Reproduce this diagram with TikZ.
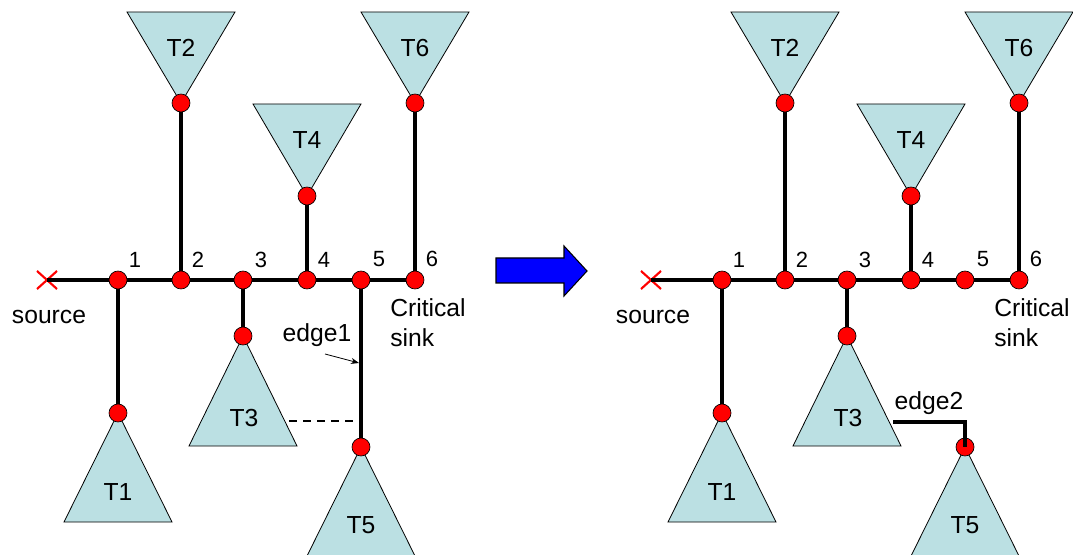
\documentclass[tikz,border=0pt]{standalone}
\usepackage{fontspec}
\setmainfont{Liberation Sans}
\usetikzlibrary{arrows.meta,calc}
\definecolor{treefill}{RGB}{187,224,227}
\definecolor{arrowblue}{RGB}{0,0,255}
\tikzset{
  wire/.style={line width=2.3pt},
  dotnode/.style={circle, fill=red, draw=black, line width=0.5pt, minimum size=13.5pt, inner sep=0pt},
  tree/.style={fill=treefill, draw=black, line width=0.6pt},
  lbl/.style={font=\fontsize{18.5}{22.5}\selectfont, inner sep=0pt},
  num/.style={font=\fontsize{16.5}{20}\selectfont, inner sep=0pt},
  cross/.style={draw=red, line width=1.6pt},
}
\begin{document}
\begin{tikzpicture}[x=0.75pt, y=-0.75pt]
\useasboundingbox (0,0) rectangle (1073,555);
\clip (0,0) rectangle (1073,555);

% ---------- generic half (drawn twice) ----------
\foreach \side/\sx in {L/0, R/604} {
\begin{scope}[xshift=\sx*0.75pt, name prefix=\side-]
  % trees
  \path[tree] (127,12) -- (235,12) -- (181,103) -- cycle;
  \path[tree] (253,104) -- (361,104) -- (307,196) -- cycle;
  \path[tree] (361,12) -- (469,12) -- (415,103) -- cycle;
  \path[tree] (118,413) -- (172,522) -- (64,522) -- cycle;
  \path[tree] (243,336) -- (297,446) -- (189,446) -- cycle;
  \path[tree] (361,447) -- (415,556) -- (307,556) -- cycle;
  \node[lbl] (t2) at (181,48) {T2};
  \node[lbl] (t4) at (307,140) {T4};
  \node[lbl] (t6) at (415,48) {T6};
  \node[lbl] (t1) at (118,492) {T1};
  \node[lbl] (t3) at (244,418) {T3};
  \node[lbl] (t5) at (361,525) {T5};

  % source
  \coordinate (src) at (47,280);
  \draw[cross] ($(src)+(-10,-9)$) -- ($(src)+(10,9)$);
  \draw[cross] ($(src)+(-10,9)$) -- ($(src)+(10,-9)$);
  \node[lbl] (srclbl) at (49,317) {source};

  % nodes
  \coordinate (n1) at (118,280);
  \coordinate (n2) at (181,280);
  \coordinate (n3) at (243,280);
  \coordinate (n4) at (307,280);
  \coordinate (n5) at (361,280);
  \coordinate (n6) at (415,280);
  \coordinate (r1) at (118,413);
  \coordinate (r2) at (181,103);
  \coordinate (r3) at (243,336);
  \coordinate (r4) at (307,196);
  \coordinate (r6) at (415,103);
  \coordinate (r5) at (361,447);

  % wires
  \draw[wire] (src) -- (n6);
  \draw[wire] (n1) -- (r1);
  \draw[wire] (n2) -- (r2);
  \draw[wire] (n3) -- (r3);
  \draw[wire] (n4) -- (r4);
  \draw[wire] (n6) -- (r6);

  % labels
  \node[num] (l1) at (135,260) {1};
  \node[num] (l2) at (198,260) {2};
  \node[num] (l3) at (261,260) {3};
  \node[num] (l4) at (324,260) {4};
  \node[num] (l5) at (379,259) {5};
  \node[num] (l6) at (432,259) {6};
  \node[lbl, anchor=west, align=left] (crit) at (390,323) {Critical\\sink};
\end{scope}
}

% ---------- left-only: edge1 ----------
\draw[wire] (L-n5) -- (L-r5);
\coordinate (dashA) at (289,421);
\coordinate (dashB) at (360,421);
\draw[line width=1.5pt, dash pattern=on 6pt off 4.5pt] (dashA) -- (dashB);
\node[lbl] (e1) at (317,335) {edge1};
\coordinate (e1a) at (325,354);
\coordinate (e1b) at (359,363);
\draw[line width=0.6pt, -{Stealth[length=6pt,width=4.5pt]}] (e1a) -- (e1b);

% ---------- dots ----------
\foreach \side in {L,R} {
  \foreach \p in {n1,n2,n3,n4,n5,n6,r1,r2,r3,r4,r5,r6} {
    \node[dotnode] (\side-d\p) at (\side-\p) {};
  }
}

% ---------- right-only: edge2 ----------
\coordinate (e2a) at (893,422);
\coordinate (e2c) at (965,422);
\draw[wire] (e2a) -- (e2c) -- (R-r5);
\node[lbl] (e2) at (929,403) {edge2};

% ---------- blue arrow ----------
\draw[fill=arrowblue, draw=black, line width=0.8pt]
  (496,258) -- (564,258) -- (564,246) -- (587,271) -- (564,296) -- (564,283) -- (496,283) -- cycle;
\end{tikzpicture}
\end{document}
